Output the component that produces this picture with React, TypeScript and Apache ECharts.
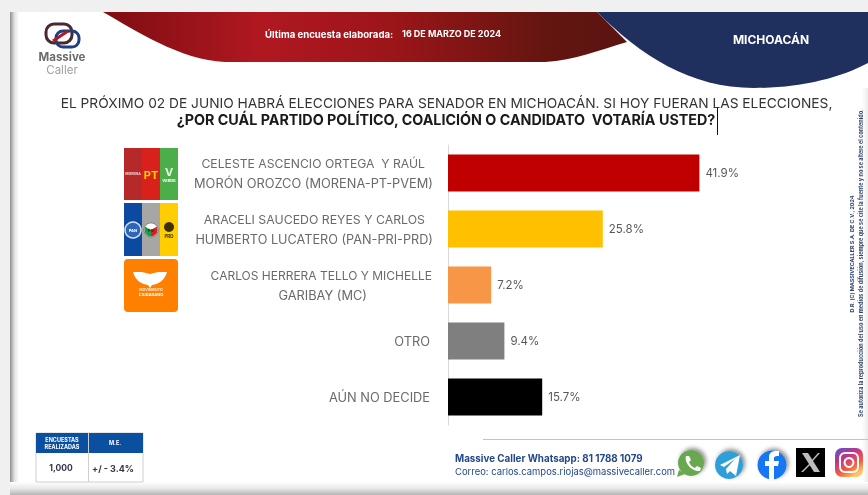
import React, { useEffect, useRef } from "react";
import * as echarts from "echarts";

const categories = [
  "CELESTE ASCENCIO ORTEGA  Y RAÚL\nMORÓN OROZCO (MORENA-PT-PVEM)",
  "ARACELI SAUCEDO REYES Y CARLOS\nHUMBERTO LUCATERO (PAN-PRI-PRD)",
  "CARLOS HERRERA TELLO Y MICHELLE\nGARIBAY (MC)",
  "OTRO",
  "AÚN NO DECIDE",
];
const values = [41.9, 25.8, 7.2, 9.4, 15.7];
const barColors = ["#c00000", "#ffc000", "#f79646", "#7f7f7f", "#000000"];
// space on the right of each label line, so that wrapped lines sit centred
const linePads = [[8, 0], [8, 0], [1, 66], [3], [3]];
const lineSizes = [[12.2, 12.8], [12.3, 12.7], [12, 12.8], [12.8], [12.8]];

const FONT = "Inter, 'Noto Sans', sans-serif";
const reg = (name: string, d: string) =>
  echarts.graphic.registerShape(name, echarts.graphic.extendPath(d, {}) as any);

reg("redBand", "M103 12 C135 30 180 60 225 62 L545 62 C575 60 600 50 627 42 L597 12 Z");
reg("blueBand", "M597 12 C640 55 690 88 754 88 C800 88 840 78 868 63 L868 12 Z");
reg("eagle", "M150 274 L142 272 L133 272 C135 280 141 284 148 285 L150 288 L152 285 C159 284 165 280 167 272 L158 272 L150 274 Z");
reg("plane", "M720 465 L740 455 L736 476 L730 471 L727 474 L726 469 L735 459 L724 467 Z");
reg("fbF", "M769 480 L769 466 L765 466 L765 461 L769 461 L769 457 C769 453 772 451 776 451 L779 451 L779 456 L777 456 C775 456 774 457 774 458 L774 461 L779 461 L778 466 L774 466 L774 480 Z");
reg("xGlyph", "M802 453 L808 453 L820 472 L814 472 Z M818 453 L820 453 L812 462 L811 461 Z M809 464 L810 465 L803 472 L801 472 Z");
reg("phone", "M686 456 L689 456 L691 460 L689 462 C690 465 692 467 695 468 L697 466 L701 468 L700 471 C693 472 684 464 686 456 Z");
reg("waTail", "M679 470 L677 477 L685 474 Z");

const txt = (text: string, x: number, y: number, font: string, fill: string, textAlign = "left", extra: any = {}) => ({
  type: "text", x, y, ...extra,
  style: { text, fill, font, textAlign, textVerticalAlign: "middle" },
});
const box = (x: number, y: number, width: number, height: number, fill: any, r = 0, extra: any = {}) => ({
  type: "rect", shape: { x, y, width, height, r }, style: { fill, ...extra },
});
const ln = (x1: number, y1: number, x2: number, y2: number, stroke: string, lineWidth = 1) => ({
  type: "line", shape: { x1, y1, x2, y2 }, style: { stroke, lineWidth },
});
const shp = (type: string, fill: any) => ({ type, x: 0, y: 0, style: { fill } });
const grad = (dir: "h" | "v", stops: [number, string][]) =>
  new echarts.graphic.LinearGradient(0, 0, dir === "h" ? 1 : 0, dir === "h" ? 0 : 1,
    stops.map(([offset, color]) => ({ offset, color })));
const iconShadow = { shadowBlur: 4, shadowColor: "rgba(0,0,0,0.45)", shadowOffsetX: 2, shadowOffsetY: -2 };

const decoration: any[] = [
  // page and sheet
  box(0, 0, 868, 495, "#f0f0f0"),
  box(10, 12, 858, 474, "#ffffff"),
  box(10, 12, 9, 474, grad("h", [[0, "#8f8f8f"], [0.5, "#e2e2e2"], [1, "#ffffff"]])),
  box(10, 482, 858, 13, grad("v", [[0, "#ffffff"], [0.5, "#e8e8e8"], [1, "#b4b4b4"]])),
  box(862, 88, 6, 394, grad("h", [[0, "#ffffff"], [1, "#ececec"]])),
  // header
  shp("redBand", grad("h", [[0, "#7e0d12"], [0.3, "#b01820"], [0.55, "#9c1519"], [0.85, "#631510"], [1, "#5a1410"]])),
  shp("blueBand", "#1f2f5e"),
  txt("Última encuesta elaborada:", 265, 34, `bold 9.6px ${FONT}`, "#ffffff"),
  txt("16 DE MARZO DE 2024", 402, 33, `bold 9px ${FONT}`, "#ffffff"),
  txt("MICHOACÁN", 771, 39, `bold 12px ${FONT}`, "#ffffff", "center"),
  // logo
  { type: "rect", shape: { x: 46, y: 24, width: 26, height: 19, r: 8 }, style: { fill: "none", stroke: "#4a2a30", lineWidth: 3 } },
  { type: "rect", shape: { x: 56, y: 31, width: 23, height: 16, r: 7 }, style: { fill: "none", stroke: "#1f3f80", lineWidth: 3 } },
  ln(53, 41, 68, 31, "#b01820", 3),
  txt("Massive", 62, 57, `bold 11.5px ${FONT}`, "#6b6b6b", "center"),
  txt("Caller", 62, 70, `11.5px ${FONT}`, "#a0a0a0", "center"),
  // question
  txt("EL PRÓXIMO 02 DE JUNIO HABRÁ ELECCIONES PARA SENADOR EN MICHOACÁN. SI HOY FUERAN LAS ELECCIONES,", 446.5, 103, `13.75px ${FONT}`, "#333333", "center"),
  txt("¿POR CUÁL PARTIDO POLÍTICO, COALICIÓN O CANDIDATO  VOTARÍA USTED?", 446, 119, `bold 14.3px ${FONT}`, "#1a1a1a", "center"),
  ln(717.5, 108, 717.5, 135, "#111111", 1),
  // party tiles
  box(124, 148, 18, 52, "#b5292a"),
  box(142, 148, 18, 52, "#d8211a"),
  box(160, 148, 18, 52, "#4cae48"),
  txt("MORENA", 133, 174, `bold 3.5px ${FONT}`, "#f3d0d0", "center"),
  txt("PT", 151, 175, `bold 11px ${FONT}`, "#ffd400", "center"),
  txt("V", 169, 172, `bold 11px ${FONT}`, "#e9f6e6", "center"),
  txt("VERDE", 169, 180, `bold 4px ${FONT}`, "#ffffff", "center"),
  box(124, 203, 18, 53, "#0b4aa0"),
  box(142, 203, 18, 53, "#a6a6a6"),
  box(160, 203, 18, 53, "#ffcd00"),
  { type: "circle", shape: { cx: 133, cy: 230, r: 8 }, style: { fill: "#2f67b8", stroke: "#d8e2f2", lineWidth: 1.5 } },
  txt("PAN", 133, 230, `bold 4px ${FONT}`, "#ffffff", "center"),
  { type: "circle", shape: { cx: 151, cy: 230, r: 7 }, style: { fill: "#ffffff", stroke: "#444444", lineWidth: 0.5 } },
  { type: "sector", shape: { cx: 151, cy: 230, r: 6.5, startAngle: 1.57, endAngle: 3.66 }, style: { fill: "#1f9a4a" } },
  { type: "sector", shape: { cx: 151, cy: 230, r: 6.5, startAngle: 5.76, endAngle: 7.85 }, style: { fill: "#d8211a" } },
  txt("PRI", 151, 230, `bold 4px ${FONT}`, "#333333", "center"),
  { type: "circle", shape: { cx: 169, cy: 227, r: 5 }, style: { fill: "#3a3000" } },
  txt("PRD", 169, 236, `bold 4.5px ${FONT}`, "#3a3000", "center"),
  box(124, 259, 54, 53, "#ff7f00", 4),
  shp("eagle", "#ffffff"),
  txt("MOVIMIENTO", 151, 290, `bold 3.5px ${FONT}`, "#ffe8d0", "center"),
  txt("CIUDADANO", 151, 294, `bold 4px ${FONT}`, "#ffffff", "center"),
  // survey table
  box(36, 433, 107, 49, "#ffffff", 0, { stroke: "#cfcfcf", lineWidth: 1 }),
  box(36, 433, 107, 20, "#0b4fa0"),
  ln(88.5, 433, 88.5, 482, "#cfcfcf", 1),
  txt("ENCUESTAS", 62, 439.5, `bold 5.5px ${FONT}`, "#ffffff", "center"),
  txt("REALIZADAS", 62, 447, `bold 5.5px ${FONT}`, "#ffffff", "center"),
  txt("M.E.", 115, 443, `bold 5.5px ${FONT}`, "#ffffff", "center"),
  txt("1,000", 61, 468, `bold 8.5px ${FONT}`, "#33334d", "center"),
  txt("+/ - 3.4%", 113, 468, `bold 9px ${FONT}`, "#33334d", "center"),
  // footer
  ln(483, 439.5, 868, 439.5, "#c4c4c4", 1),
  txt("Massive Caller Whatsapp: 81 1788 1079", 455, 458, `bold 9.8px ${FONT}`, "#23478c"),
  txt("Correo: carlos.campos.riojas@massivecaller.com", 455, 471, `9.45px ${FONT}`, "#23478c"),
  { type: "circle", shape: { cx: 691, cy: 463, r: 13 }, style: { fill: "#6aa84f", ...iconShadow } },
  shp("waTail", "#6aa84f"),
  shp("phone", "#ffffff"),
  { type: "circle", shape: { cx: 729, cy: 465, r: 14 }, style: { fill: "#2f9fd8", ...iconShadow } },
  shp("plane", "#ffffff"),
  { type: "circle", shape: { cx: 772, cy: 465, r: 14.5 }, style: { fill: "#1877f2", ...iconShadow } },
  shp("fbF", "#ffffff"),
  box(796, 448, 29, 29, "#000000"),
  shp("xGlyph", "#bdbdbd"),
  box(835, 448, 28, 29, new echarts.graphic.LinearGradient(0, 0, 0.6, 1, [
    { offset: 0, color: "#5b51d8" }, { offset: 0.4, color: "#c13584" },
    { offset: 0.75, color: "#f56040" }, { offset: 1, color: "#fdc468" },
  ]), 7),
  { type: "rect", shape: { x: 840, y: 453, width: 18, height: 19, r: 5 }, style: { fill: "none", stroke: "#ffffff", lineWidth: 2 } },
  { type: "circle", shape: { cx: 849, cy: 462.5, r: 4.5 }, style: { fill: "none", stroke: "#ffffff", lineWidth: 2 } },
  // legal notes
  txt("D.R. (C) MASSIVECALLER S.A. DE C.V., 2024", 852, 254, `bold 5.4px ${FONT}`, "#33476e", "center", { rotation: Math.PI / 2 }),
  txt("Se autoriza la reproducción del uso en medios de difusión, siempre que se cite la fuente y no se altere el contenido.", 861, 263, `bold 5.5px ${FONT}`, "#33476e", "center", { rotation: Math.PI / 2 }),
];

export default function App() {
  const ref = useRef<HTMLDivElement>(null);
  useEffect(() => {
    const chart = echarts.init(ref.current!, undefined, { renderer: "svg" });
    const rich: any = {};
    linePads.forEach((pads, i) => pads.forEach((p, j) => {
      rich[`l${i}_${j}`] = { fontFamily: FONT, fontSize: lineSizes[i][j], color: "#6a6a6a", lineHeight: 20, padding: [0, p, 0, 0], align: "right" };
    }));
    chart.setOption({
      animation: false,
      graphic: { elements: decoration },
      grid: { left: 448, top: 145, width: 360, height: 280, containLabel: false },
      xAxis: { type: "value", min: 0, max: 60, show: false },
      yAxis: {
        type: "category", inverse: true, data: categories,
        axisLine: { show: true, lineStyle: { color: "#d9d9d9", width: 1 } },
        axisTick: { show: false },
        axisLabel: {
          margin: 15, align: "right",
          formatter: (v: string) => {
            const i = categories.indexOf(v);
            return v.split("\n").map((line, j) => `{l${i}_${j}|${line}}`).join("\n");
          },
          rich,
        },
      },
      series: [{
        type: "bar", barWidth: 37, z: 5,
        data: values.map((value, i) => ({ value, itemStyle: { color: barColors[i] } })),
        label: {
          show: true, position: "right", distance: 6,
          formatter: "{c}%", fontFamily: FONT, fontSize: 11.5, color: "#595959",
        },
      }],
    });
    return () => chart.dispose();
  }, []);
  return <div ref={ref} style={{ position: "fixed", left: 0, top: 0, width: 868, height: 495 }} />;
}
